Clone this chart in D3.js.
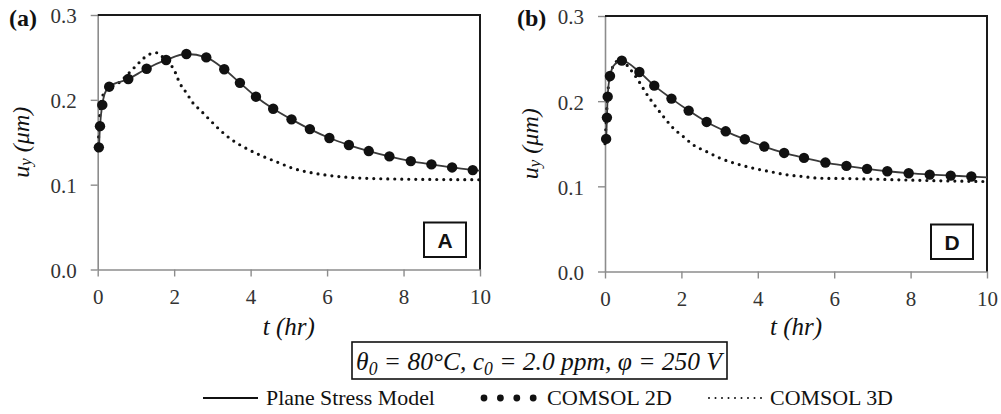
<!DOCTYPE html>
<html>
<head>
<meta charset="utf-8">
<script src="https://cdn.jsdelivr.net/npm/d3@7"></script>
<style>
  html, body { margin: 0; padding: 0; background: #fff; }
  svg { display: block; font-family: 'Liberation Serif', 'Times New Roman', serif; }
</style>
</head>
<body>
<svg id="chart" width="1001" height="414"></svg>
<script>
// Displacement u_y vs time, two cases (A and D)

const xTicks = [0, 2, 4, 6, 8, 10];
const yTicks = [0, 0.1, 0.2, 0.3];

// panel (a) - case A
const aModelT = [0, 0.03, 0.06, 0.12, 0.18, 0.3, 0.8, 1.28, 1.79, 2.32, 2.84, 3.31, 3.72, 4.14, 4.59, 5.07, 5.55, 6.06, 6.57, 7.09, 7.63, 8.19, 8.73, 9.27, 9.81, 10];
const aModelU = [0.14, 0.144, 0.169, 0.194, 0.207, 0.2155, 0.2245, 0.2367, 0.247, 0.254, 0.25, 0.236, 0.22, 0.2037, 0.1895, 0.177, 0.1655, 0.155, 0.1467, 0.1396, 0.1333, 0.1278, 0.1239, 0.1203, 0.1172, 0.1165];
const a2dT = [0.03, 0.06, 0.12, 0.3, 0.8, 1.28, 1.79, 2.32, 2.84, 3.31, 3.72, 4.14, 4.59, 5.07, 5.55, 6.06, 6.57, 7.09, 7.63, 8.19, 8.73, 9.27, 9.81];
const a2dU = [0.144, 0.169, 0.194, 0.2155, 0.2245, 0.2367, 0.247, 0.254, 0.25, 0.236, 0.22, 0.2037, 0.1895, 0.177, 0.1655, 0.155, 0.1467, 0.1396, 0.1333, 0.1278, 0.1239, 0.1203, 0.1172];
const a3dT = [0, 0.03, 0.06, 0.1, 0.2, 0.58, 0.85, 1.11, 1.32, 1.55, 1.8, 1.98, 2.15, 2.33, 2.5, 2.68, 2.94, 3.2, 3.46, 3.81, 4.25, 4.68, 5.12, 5.55, 5.99, 6.77, 8, 10];
const a3dU = [0.14, 0.16, 0.185, 0.2, 0.21, 0.221, 0.233, 0.245, 0.253, 0.2555, 0.245, 0.237, 0.2194, 0.2076, 0.1958, 0.188, 0.176, 0.1644, 0.1545, 0.1446, 0.1348, 0.1269, 0.1191, 0.1144, 0.1112, 0.108, 0.1065, 0.1058];

// panel (b) - case D
const bModelT = [0, 0.03, 0.05, 0.07, 0.13, 0.25, 0.44, 0.9, 1.29, 1.74, 2.19, 2.66, 3.16, 3.66, 4.17, 4.69, 5.21, 5.77, 6.32, 6.86, 7.39, 7.95, 8.5, 9.05, 9.59, 10];
const bModelU = [0.15, 0.1557, 0.1807, 0.2053, 0.2296, 0.243, 0.2476, 0.2343, 0.2182, 0.203, 0.1889, 0.1756, 0.1646, 0.1553, 0.1467, 0.1392, 0.1334, 0.1279, 0.124, 0.1205, 0.1177, 0.1154, 0.1138, 0.1126, 0.1115, 0.1105];
const b2dT = [0.03, 0.05, 0.07, 0.13, 0.44, 0.9, 1.29, 1.74, 2.19, 2.66, 3.16, 3.66, 4.17, 4.69, 5.21, 5.77, 6.32, 6.86, 7.39, 7.95, 8.5, 9.05, 9.59];
const b2dU = [0.1557, 0.1807, 0.2053, 0.2296, 0.2476, 0.2343, 0.2182, 0.203, 0.1889, 0.1756, 0.1646, 0.1553, 0.1467, 0.1392, 0.1334, 0.1279, 0.124, 0.1205, 0.1177, 0.1154, 0.1138, 0.1126, 0.1115];
const b3dT = [0, 0.03, 0.06, 0.1, 0.2, 0.4, 0.57, 0.74, 0.92, 1.05, 1.26, 1.53, 1.79, 2.05, 2.31, 2.66, 3.01, 3.45, 3.88, 4.32, 4.76, 5.18, 5.58, 6.5, 7.72, 8.8, 10];
const b3dU = [0.15, 0.175, 0.2, 0.222, 0.24, 0.249, 0.2425, 0.2328, 0.221, 0.2112, 0.1976, 0.1819, 0.1682, 0.1584, 0.1487, 0.1408, 0.1331, 0.1264, 0.1213, 0.1173, 0.1135, 0.1115, 0.1096, 0.109, 0.1076, 0.1065, 0.1056];

const zip = (ts, us) => ts.map((t, i) => ({ t, u: us[i] }));

const panels = [
  { tag: '(a)', box: 'A', left: 97.7, right: 480, top: 15, bottom: 269.5, tagX: 9, titleX: 21,
    model: zip(aModelT, aModelU), c2d: zip(a2dT, a2dU), c3d: zip(a3dT, a3dU) },
  { tag: '(b)', box: 'D', left: 605, right: 987, top: 16, bottom: 271.5, tagX: 517, titleX: 530,
    model: zip(bModelT, bModelU), c2d: zip(b2dT, b2dU), c3d: zip(b3dT, b3dU) }
];

const svg = d3.select('#chart');
const axisGray = '#8c8c8c';

// squeeze a text element horizontally so it fits a target width
function fitWidth(sel, x, y, width) {
  const w = sel.node().getComputedTextLength();
  sel.attr('transform', `translate(${x},${y}) scale(${width / w},1)`);
}

panels.forEach(p => {
  const x = d3.scaleLinear().domain([0, 10]).range([p.left, p.right]);
  const y = d3.scaleLinear().domain([0, 0.3]).range([p.bottom, p.top]);

  // y axis
  const gy = svg.append('g')
    .attr('transform', `translate(${p.left},0)`)
    .call(d3.axisLeft(y).tickValues(yTicks).tickFormat(d3.format('.1f')).tickSize(7).tickSizeOuter(0).tickPadding(14));
  gy.select('.domain').attr('stroke', axisGray).attr('stroke-width', 1.6);
  gy.selectAll('.tick line').attr('stroke', axisGray).attr('stroke-width', 1.4);
  gy.selectAll('.tick text')
    .attr('dy', '0.38em')
    .style('font-family', "'Liberation Serif', serif")
    .style('font-size', '21px')
    .attr('fill', '#333');

  // x axis
  const gx = svg.append('g')
    .attr('transform', `translate(0,${p.bottom})`)
    .call(d3.axisBottom(x).tickValues(xTicks).tickFormat(d3.format('d')).tickSize(7).tickSizeOuter(0).tickPadding(13));
  gx.select('.domain').attr('stroke', axisGray).attr('stroke-width', 1.6);
  gx.selectAll('.tick line').attr('stroke', axisGray).attr('stroke-width', 1.4);
  gx.selectAll('.tick text')
    .style('font-family', "'Liberation Serif', serif")
    .style('font-size', '21px')
    .attr('fill', '#333');

  // top and right frame
  svg.append('path')
    .attr('d', `M${p.left},${p.top}H${p.right}V${p.bottom}`)
    .attr('fill', 'none')
    .attr('stroke', '#1a1a1a')
    .attr('stroke-width', 2);

  // COMSOL 3D dotted curve
  svg.append('path')
    .datum(p.c3d)
    .attr('fill', 'none')
    .attr('stroke', '#111')
    .attr('stroke-width', 3.2)
    .attr('stroke-linecap', 'round')
    .attr('stroke-dasharray', '0 7')
    .attr('d', d3.line().x(d => x(d.t)).y(d => y(d.u)).curve(d3.curveMonotoneX));

  // plane stress model line
  svg.append('path')
    .datum(p.model)
    .attr('fill', 'none')
    .attr('stroke', '#3a3a3a')
    .attr('stroke-width', 1.8)
    .attr('d', d3.line().x(d => x(d.t)).y(d => y(d.u)).curve(d3.curveMonotoneX));

  // COMSOL 2D markers
  svg.append('g').selectAll('circle')
    .data(p.c2d)
    .enter()
    .append('circle')
    .attr('cx', d => x(d.t))
    .attr('cy', d => y(d.u))
    .attr('r', 5.2)
    .attr('fill', '#111');

  // panel tag
  svg.append('text')
    .attr('x', p.tagX)
    .attr('y', 26)
    .style('font-size', '24px')
    .style('font-weight', 'bold')
    .attr('fill', '#111')
    .text(p.tag);

  // case box
  const bx = p.right - 56, by = p.bottom - 47;
  svg.append('rect')
    .attr('x', bx).attr('y', by)
    .attr('width', 42).attr('height', 34.5)
    .attr('fill', '#fff')
    .attr('stroke', '#111')
    .attr('stroke-width', 2);
  svg.append('text')
    .attr('x', bx + 21).attr('y', by + 25)
    .attr('text-anchor', 'middle')
    .style('font-family', "'Liberation Sans', Arial, sans-serif")
    .style('font-size', '21px')
    .style('font-weight', 'bold')
    .attr('fill', '#111')
    .text(p.box);

  // axis titles
  svg.append('text')
    .attr('x', (p.left + p.right) / 2)
    .attr('y', 335)
    .attr('text-anchor', 'middle')
    .style('font-size', '25px')
    .style('font-style', 'italic')
    .attr('fill', '#111')
    .text('t (hr)');

  const yt = svg.append('text')
    .attr('transform', `translate(${p.titleX},${(p.top + p.bottom) / 2}) rotate(-90)`)
    .attr('text-anchor', 'middle')
    .attr('dominant-baseline', 'central')
    .style('font-size', '24px')
    .style('font-style', 'italic')
    .attr('fill', '#111');
  yt.append('tspan').text('u');
  yt.append('tspan').attr('baseline-shift', '-25%').style('font-size', '17px').text('y');
  yt.append('tspan').text(' (μm)');
});

// parameter box
svg.append('rect')
  .attr('x', 352).attr('y', 342)
  .attr('width', 375).attr('height', 37)
  .attr('fill', '#fff')
  .attr('stroke', '#111')
  .attr('stroke-width', 1.6);

const pt = svg.append('text')
  .attr('text-anchor', 'middle')
  .style('font-size', '26px')
  .style('font-style', 'italic')
  .attr('fill', '#111');
const parts = [['θ', false], ['0', true], [' = 80°C, c', false], ['0', true], [' = 2.0 ppm, φ = 250 V', false]];
parts.forEach(([s, sub]) => {
  const ts = pt.append('tspan').text(s);
  if (sub) ts.attr('baseline-shift', '-25%').style('font-size', '18px');
});
fitWidth(pt, 539, 370, 366);

// legend
const legendY = 398;
svg.append('line')
  .attr('x1', 203).attr('x2', 258)
  .attr('y1', legendY).attr('y2', legendY)
  .attr('stroke', '#111')
  .attr('stroke-width', 1.8);

svg.append('g').selectAll('circle')
  .data([0, 1, 2, 3])
  .enter()
  .append('circle')
  .attr('cx', d => 484 + d * 16.4)
  .attr('cy', legendY)
  .attr('r', 3.4)
  .attr('fill', '#111');

svg.append('line')
  .attr('x1', 709).attr('x2', 765)
  .attr('y1', legendY).attr('y2', legendY)
  .attr('stroke', '#111')
  .attr('stroke-width', 2)
  .attr('stroke-linecap', 'round')
  .attr('stroke-dasharray', '0 6.5');

const legendItems = [
  { text: 'Plane Stress Model', x: 266, w: 169 },
  { text: 'COMSOL 2D', x: 547, w: 125 },
  { text: 'COMSOL 3D', x: 770, w: 123 }
];
legendItems.forEach(l => {
  const t = svg.append('text')
    .style('font-size', '22px')
    .attr('fill', '#111')
    .text(l.text);
  fitWidth(t, l.x, 405, l.w);
});
</script>
</body>
</html>
